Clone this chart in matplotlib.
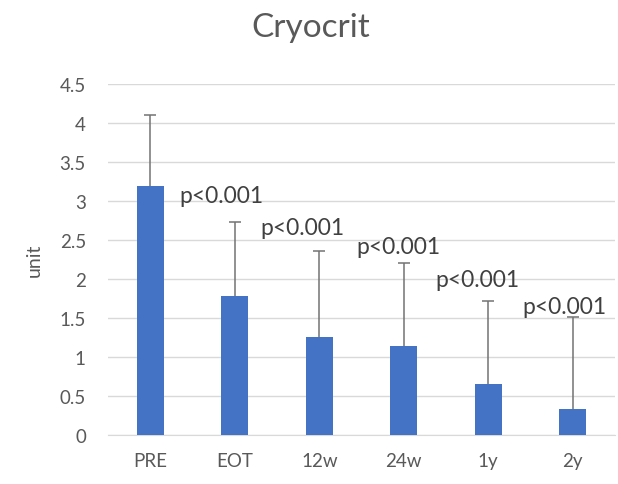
import numpy as np
from matplotlib import pyplot as plt

plt.rcParams['font.family'] = ['Lato', 'DejaVu Sans']

# data
categories = ['PRE', 'EOT', '12w', '24w', '1y', '2y']
means = [3.19, 1.78, 1.26, 1.14, 0.65, 0.33]
sd_upper = [0.91, 0.95, 1.10, 1.06, 1.07, 1.18]
p_labels = ['', 'p<0.001', 'p<0.001', 'p<0.001', 'p<0.001', 'p<0.001']

# label offsets from the error cap (points)
label_dx = [0, -10, -12, -4, -8, -6]
label_dy = [0, 19, 17, 12, 15, 8]

bar_color = '#4472C4'
grid_color = '#D9D9D9'
text_color = '#595959'

fig = plt.figure(figsize=(6.18, 4.85), dpi=100)
ax = fig.add_axes([0.175, 0.101, 0.820, 0.724])

x = np.arange(len(categories))
ax.bar(x, means, width=0.32, color=bar_color, zorder=3)
eb = ax.errorbar(x, means, yerr=[np.zeros(len(means)), sd_upper], fmt='none',
                 ecolor='#737373', elinewidth=1.1, capsize=4.5, capthick=1.1, zorder=4)
# only the upper caps, like the excel chart
eb[1][0].set_visible(False)

for i, lab in enumerate(p_labels):
    if lab:
        ax.annotate(lab, (x[i], means[i] + sd_upper[i]),
                    xytext=(label_dx[i], label_dy[i]), textcoords='offset points',
                    ha='center', va='center', fontsize=16.5, color='#404040')

ax.set_xlim(-0.5, len(categories) - 0.5)
ax.set_ylim(0, 4.5)
ax.set_yticks(np.arange(0, 4.51, 0.5))
ax.set_yticklabels(['0', '0.5', '1', '1.5', '2', '2.5', '3', '3.5', '4', '4.5'])
ax.set_xticks(x)
ax.set_xticklabels(categories)
ax.yaxis.grid(True, color=grid_color, linewidth=1.0, zorder=0)
ax.set_axisbelow(True)

for s in ['top', 'right', 'left']:
    ax.spines[s].set_visible(False)
ax.spines['bottom'].set_color(grid_color)
ax.tick_params(axis='both', length=0, colors=text_color, labelsize=13.5)
ax.tick_params(axis='y', pad=16)
ax.tick_params(axis='x', pad=12)

ax.set_ylabel('unit', fontsize=14, color=text_color, labelpad=12)
fig.text(0.503, 0.942, 'Cryocrit', ha='center', va='center', fontsize=24,
         color='#595959')

fig.savefig('out.png', dpi=100)
